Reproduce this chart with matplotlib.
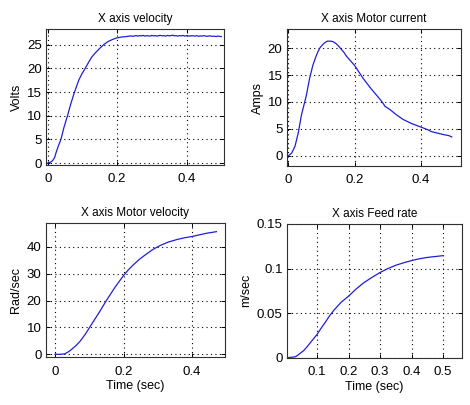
import matplotlib
matplotlib.use("Agg")
import matplotlib.pyplot as plt

plt.rcParams['font.family'] = ['Liberation Sans', 'DejaVu Sans']

# X axis velocity (Volts)
vel_t = [0.0, 0.008, 0.014, 0.02, 0.024, 0.03, 0.038, 0.047, 0.057, 0.066, 0.075, 0.083, 0.09,
         0.099, 0.108, 0.118, 0.127, 0.139, 0.151, 0.163, 0.175, 0.187, 0.198, 0.212, 0.226,
         0.235, 0.24, 0.245, 0.25, 0.255, 0.26, 0.265, 0.27, 0.275, 0.28, 0.285, 0.29, 0.295,
         0.30, 0.305, 0.31, 0.315, 0.32, 0.325, 0.33, 0.335, 0.34, 0.345, 0.35, 0.355, 0.36,
         0.365, 0.37, 0.375, 0.38, 0.385, 0.39, 0.395, 0.40, 0.405, 0.41, 0.415, 0.42, 0.425,
         0.43, 0.435, 0.44, 0.445, 0.45, 0.455, 0.46, 0.465, 0.47, 0.475, 0.48, 0.485, 0.49,
         0.495, 0.50]
vel_v = [0.0, 0.2, 0.5, 1.2, 2.2, 3.5, 5.0, 7.6, 10.0, 12.4, 14.5, 16.2, 17.6,
         18.9, 20.0, 21.3, 22.4, 23.4, 24.3, 25.1, 25.7, 26.1, 26.4, 26.6, 26.7,
         26.8, 26.85, 26.75, 26.85, 26.9, 26.8, 26.9, 26.85, 26.95, 26.8, 26.9, 26.85, 26.8,
         26.95, 26.85, 26.9, 26.8, 26.9, 26.95, 26.85, 26.9, 26.8, 26.95, 26.85, 26.9, 27.0,
         26.85, 26.9, 26.8, 26.9, 26.85, 26.95, 26.8, 26.9, 26.85, 26.8, 26.9, 26.85, 26.8,
         26.9, 26.75, 26.85, 26.8, 26.9, 26.8, 26.75, 26.85, 26.8, 26.75, 26.8, 26.7, 26.8,
         26.75, 26.7]

# X axis Motor current (Amps)
cur_t = [0.0, 0.01, 0.02, 0.03, 0.039, 0.047, 0.054, 0.064, 0.074, 0.082, 0.089, 0.096, 0.103,
         0.11, 0.118, 0.128, 0.135, 0.143, 0.15, 0.157, 0.167, 0.177, 0.19, 0.2, 0.213, 0.227,
         0.247, 0.262, 0.277, 0.287, 0.292, 0.307, 0.327, 0.347, 0.372, 0.398, 0.423, 0.432,
         0.448, 0.472, 0.485, 0.494]
cur_v = [0.0, 0.5, 1.75, 4.25, 7.4, 9.4, 11.1, 14.3, 16.8, 18.2, 19.3, 20.1, 20.6,
         21.0, 21.3, 21.3, 21.2, 20.9, 20.5, 20.0, 19.3, 18.4, 17.5, 16.8, 15.6, 14.3,
         12.7, 11.6, 10.5, 9.7, 9.2, 8.6, 7.6, 6.75, 6.0, 5.4, 4.8, 4.5,
         4.25, 3.9, 3.75, 3.5]

# X axis Motor velocity (Rad/sec)
mv_t = [0.0, 0.015, 0.029, 0.04, 0.05, 0.061, 0.073, 0.088, 0.102, 0.116, 0.131, 0.151,
        0.175, 0.2, 0.214, 0.228, 0.247, 0.267, 0.286, 0.306, 0.33, 0.354, 0.377, 0.4, 0.421,
        0.442, 0.457, 0.471]
mv_v = [0.0, 0.0, 0.2, 1.0, 2.0, 3.2, 4.8, 7.4, 10.2, 13.0, 16.0, 20.2,
        24.9, 29.3, 31.4, 33.2, 35.4, 37.3, 39.0, 40.4, 41.7, 42.6, 43.3, 43.8, 44.4,
        45.0, 45.3, 45.6]

# X axis Feed rate (m/sec)
fr_t = [0.004, 0.02, 0.031, 0.04, 0.047, 0.058, 0.068, 0.084, 0.1, 0.113, 0.127, 0.14, 0.153,
        0.176, 0.2, 0.224, 0.248, 0.274, 0.3, 0.325, 0.35, 0.375, 0.4, 0.425, 0.45, 0.475, 0.5]
fr_v = [0.0, 0.0005, 0.001, 0.003, 0.005, 0.008, 0.012, 0.019, 0.026, 0.033, 0.040, 0.047, 0.053,
        0.062, 0.069, 0.077, 0.084, 0.090, 0.0956, 0.100, 0.1037, 0.1065, 0.109, 0.111, 0.1125,
        0.1135, 0.1145]

titles = ['X axis velocity', 'X axis Motor current', 'X axis Motor velocity', 'X axis Feed rate']
ylabels = ['Volts', 'Amps', 'Rad/sec', 'm/sec']
xlabel = 'Time (sec)'

fig = plt.figure(figsize=(4.7, 4.05), dpi=100)
W, H = 470.0, 405.0

def box(l, r, t, b):
    return [l / W, 1 - b / H, (r - l) / W, (b - t) / H]

ax1 = fig.add_axes(box(46, 224, 29, 165))
ax2 = fig.add_axes(box(286.7, 461, 29.3, 166))
ax3 = fig.add_axes(box(45.7, 225, 223.3, 357.3))
ax4 = fig.add_axes(box(286.7, 461.7, 224, 357.7))

line_color = '#1f1fd6'
ax1.plot(vel_t, vel_v, color=line_color, lw=0.9)
ax2.plot(cur_t, cur_v, color=line_color, lw=0.9)
ax3.plot(mv_t, mv_v, color=line_color, lw=0.9)
ax4.plot(fr_t, fr_v, color=line_color, lw=0.9)

ax1.set_xlim(-0.005, 0.508); ax1.set_ylim(-0.4, 28.3)
ax1.set_xticks([0, 0.2, 0.4]); ax1.set_yticks([0, 5, 10, 15, 20, 25])
ax2.set_xlim(-0.005, 0.522); ax2.set_ylim(-1.9, 23.5)
ax2.set_xticks([0, 0.2, 0.4]); ax2.set_yticks([0, 5, 10, 15, 20])
ax3.set_xlim(-0.027, 0.496); ax3.set_ylim(-1.1, 48.7)
ax3.set_xticks([0, 0.2, 0.4]); ax3.set_yticks([0, 10, 20, 30, 40])
ax4.set_xlim(0.004, 0.559); ax4.set_ylim(0, 0.15)
ax4.set_xticks([0.1, 0.2, 0.3, 0.4, 0.5]); ax4.set_yticks([0, 0.05, 0.1, 0.15])

def fmt(v):
    return '%g' % v

for ax, ttl, yl in zip([ax1, ax2, ax3, ax4], titles, ylabels):
    ax.set_title(ttl, fontsize=8.5, pad=5)
    ax.set_ylabel(yl, fontsize=9, labelpad=3)
    ax.grid(True, color='black', linestyle=(0, (1, 3)), linewidth=0.8)
    ax.tick_params(direction='in', length=3, width=0.7, labelsize=9.5, top=True, right=True,
                   pad=3)
    ax.tick_params(axis='x', pad=6)
    ax.set_xticklabels([fmt(v) for v in ax.get_xticks()])
    ax.set_yticklabels([fmt(v) for v in ax.get_yticks()])
    for sp in ax.spines.values():
        sp.set_color('#303030')
        sp.set_linewidth(0.8)

ax3.set_xlabel(xlabel, fontsize=9, labelpad=2)
ax4.set_xlabel(xlabel, fontsize=9, labelpad=2)

fig.savefig('out.png', dpi=100)
